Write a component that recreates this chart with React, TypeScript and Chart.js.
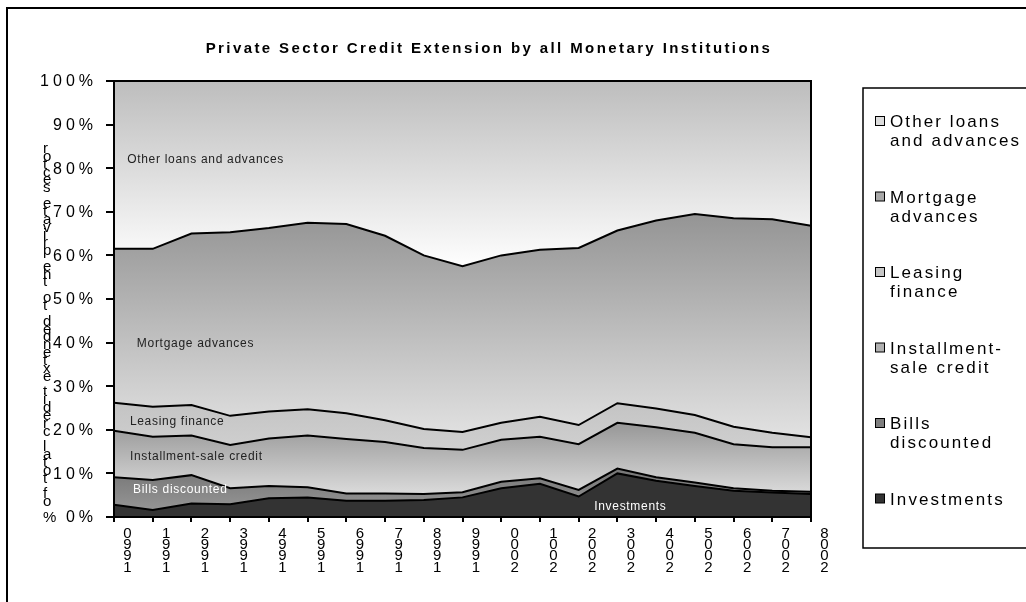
import React, { useEffect, useRef } from 'react';
import { Chart, registerables } from 'chart.js';

Chart.register(...registerables);

const years = ['1990', '1991', '1992', '1993', '1994', '1995', '1996', '1997', '1998', '1999', '2000', '2001', '2002', '2003', '2004', '2005', '2006', '2007', '2008'];
const investments = [2.8, 1.6, 3.1, 2.9, 4.3, 4.5, 3.7, 3.7, 3.9, 4.5, 6.6, 7.6, 4.7, 10.0, 8.3, 7.1, 6.0, 5.6, 5.3];
const billsDiscounted = [6.3, 6.9, 6.5, 3.7, 2.8, 2.3, 1.7, 1.7, 1.4, 1.2, 1.5, 1.3, 1.5, 1.1, 0.8, 0.8, 0.6, 0.4, 0.5];
const installmentSale = [10.7, 9.9, 9.1, 9.9, 10.9, 11.9, 12.5, 11.8, 10.5, 9.7, 9.6, 9.5, 10.5, 10.5, 11.5, 11.4, 10.1, 10.0, 10.2];
const leasingFinance = [6.4, 6.9, 7.0, 6.7, 6.2, 6.0, 5.9, 5.0, 4.4, 4.1, 3.9, 4.6, 4.4, 4.5, 4.3, 4.1, 4.0, 3.3, 2.3];
const mortgageAdvances = [35.3, 36.2, 39.3, 42.1, 42.1, 42.8, 43.4, 42.3, 39.8, 38.0, 38.4, 38.3, 40.6, 39.6, 43.1, 46.1, 47.8, 49.0, 48.5];
const otherLoans = [38.5, 38.5, 35.0, 34.7, 33.7, 32.5, 32.8, 35.5, 40.0, 42.5, 40.0, 38.7, 38.3, 34.3, 32.0, 30.5, 31.5, 31.7, 33.2];

const yTickValues = [0, 10, 20, 30, 40, 50, 60, 70, 80, 90, 100];
const titleText = 'Private Sector Credit Extension by all Monetary Institutions';
const yTitleText = '% of total credit extended to the private sector';
const legendEntries = [
  { lines: ['Other loans', 'and advances'], color: '#dcdcdc' },
  { lines: ['Mortgage', 'advances'], color: '#a8a8a8' },
  { lines: ['Leasing', 'finance'], color: '#c6c6c6' },
  { lines: ['Installment-', 'sale credit'], color: '#b0b0b0' },
  { lines: ['Bills', 'discounted'], color: '#7e7e7e' },
  { lines: ['Investments'], color: '#333333' },
];
// area annotations: [text, x (category index), y (percent), color]
const areaLabels: [string, number, number, string][] = [
  ['Other loans and advances', 0.34, 81.2, '#222222'],
  ['Mortgage advances', 0.59, 39.0, '#222222'],
  ['Leasing finance', 0.41, 21.1, '#222222'],
  ['Installment-sale credit', 0.41, 13.1, '#222222'],
  ['Bills discounted', 0.49, 5.5, '#ffffff'],
  ['Investments', 12.4, 1.6, '#ffffff'],
];

const FONT = '"Liberation Sans", Arial, sans-serif';

const grad = (stops: [number, string][]) => (c: any) => {
  const chart = c.chart;
  const { chartArea, scales } = chart;
  if (!chartArea || !scales.y) return stops[0][1];
  const ys = scales.y;
  const y0 = ys.getPixelForValue(stops[0][0]);
  const y1 = ys.getPixelForValue(stops[stops.length - 1][0]);
  const g = chart.ctx.createLinearGradient(0, y0, 0, y1);
  stops.forEach(([v, col]) => g.addColorStop(Math.min(1, Math.max(0, (ys.getPixelForValue(v) - y0) / (y1 - y0))), col));
  return g;
};

const customDraw = {
  id: 'customDraw',
  afterDraw(chart: any) {
    const ctx = chart.ctx as CanvasRenderingContext2D & { letterSpacing?: string };
    const { left, right, top, bottom } = chart.chartArea;
    const ys = chart.scales.y;
    const xs = chart.scales.x;
    ctx.save();
    // plot frame
    ctx.strokeStyle = '#000';
    ctx.lineWidth = 2;
    ctx.strokeRect(left, top, right - left, bottom - top);
    // outer chart frame
    ctx.beginPath();
    ctx.moveTo(7, 602);
    ctx.lineTo(7, 8);
    ctx.lineTo(1030, 8);
    ctx.stroke();

    // title
    ctx.fillStyle = '#000';
    ctx.font = `bold 15px ${FONT}`;
    ctx.letterSpacing = '2.4px';
    ctx.textAlign = 'center';
    ctx.textBaseline = 'alphabetic';
    ctx.fillText(titleText, 489, 53);

    // y tick labels
    ctx.font = `16px ${FONT}`;
    ctx.letterSpacing = '4px';
    ctx.textAlign = 'right';
    ctx.textBaseline = 'middle';
    yTickValues.forEach((v) => {
      ctx.fillText(v + '%', 97, ys.getPixelForValue(v) + 1);
    });

    // y title: stacked characters
    ctx.letterSpacing = '0px';
    ctx.font = `15px ${FONT}`;
    ctx.textAlign = 'left';
    ctx.textBaseline = 'alphabetic';
    const chars = Array.from(yTitleText).reverse();
    chars.forEach((ch, i) => {
      ctx.fillText(ch, 43, 153 + i * 7.85);
    });

    // area labels
    ctx.font = `12px ${FONT}`;
    ctx.letterSpacing = '0.7px';
    areaLabels.forEach(([t, xv, yv, col]) => {
      ctx.fillStyle = col;
      ctx.fillText(t, xs.getPixelForValue(xv), ys.getPixelForValue(yv));
    });

    // legend
    ctx.strokeStyle = '#000';
    ctx.lineWidth = 1.5;
    ctx.beginPath();
    ctx.rect(863, 88, 200, 460);
    ctx.stroke();
    ctx.font = `17px ${FONT}`;
    ctx.letterSpacing = '2.1px';
    legendEntries.forEach((e, i) => {
      const base = 127 + i * 75.5;
      ctx.fillStyle = e.color;
      ctx.fillRect(875.5, base - 10.5, 9, 9);
      ctx.strokeStyle = '#000';
      ctx.lineWidth = 1;
      ctx.strokeRect(875.5, base - 10.5, 9, 9);
      ctx.fillStyle = '#000';
      e.lines.forEach((ln, j) => ctx.fillText(ln, 890, base + j * 19));
    });
    ctx.restore();
  },
};

export default function App() {
  const ref = useRef<HTMLCanvasElement | null>(null);
  useEffect(() => {
    if (!ref.current) return;
    const mk = (label: string, data: number[], bg: any, fill: any) => ({
      label,
      data,
      backgroundColor: bg,
      borderColor: '#000',
      borderWidth: 2,
      pointRadius: 0,
      fill,
      tension: 0,
    });
    const chart = new Chart(ref.current, {
      type: 'line',
      data: {
        labels: years,
        datasets: [
          mk('Investments', investments, '#333333', 'origin'),
          mk('Bills discounted', billsDiscounted, grad([[11, '#767676'], [0, '#9a9a9a']]), '-1'),
          mk('Installment-sale credit', installmentSale, grad([[22, '#959595'], [5, '#dcdcdc']]), '-1'),
          mk('Leasing finance', leasingFinance, grad([[26, '#c4c4c4'], [15, '#d0d0d0']]), '-1'),
          mk('Mortgage advances', mortgageAdvances, grad([[69, '#959595'], [18, '#e2e2e2']]), '-1'),
          mk('Other loans and advances', otherLoans, grad([[100, '#bdbdbd'], [57, '#ffffff']]), '-1'),
        ],
      },
      options: {
        responsive: false,
        animation: false,
        devicePixelRatio: 1,
        layout: { padding: { top: 81, right: 215, left: 0, bottom: 0 } },
        plugins: { legend: { display: false }, title: { display: false }, tooltip: { enabled: false } },
        scales: {
          x: {
            type: 'category',
            offset: false,
            afterFit: (s: any) => { s.height = 85; },
            grid: { drawOnChartArea: false, drawTicks: true, tickLength: 5, color: '#000', lineWidth: 2 },
            border: { color: '#000', width: 2 },
            ticks: {
              autoSkip: false,
              maxRotation: 0,
              minRotation: 0,
              labelOffset: 13.5,
              padding: 6,
              color: '#000',
              font: { size: 15, family: FONT, lineHeight: 0.75 },
              callback: (_v: any, i: number) => Array.from(years[i]).reverse(),
            },
          },
          y: {
            stacked: true,
            min: 0,
            max: 100,
            afterFit: (s: any) => { s.width = 114; },
            grid: { drawOnChartArea: false, drawTicks: true, tickLength: 8, color: '#000', lineWidth: 2 },
            border: { color: '#000', width: 2 },
            ticks: { stepSize: 10, display: false },
          },
        },
      },
      plugins: [customDraw],
    });
    return () => chart.destroy();
  }, []);
  return (
    <div style={{ position: 'fixed', left: 0, top: 0, width: 1026, height: 602, background: '#fff' }}>
      <canvas ref={ref} width={1026} height={602} style={{ display: 'block', width: 1026, height: 602 }} />
    </div>
  );
}
